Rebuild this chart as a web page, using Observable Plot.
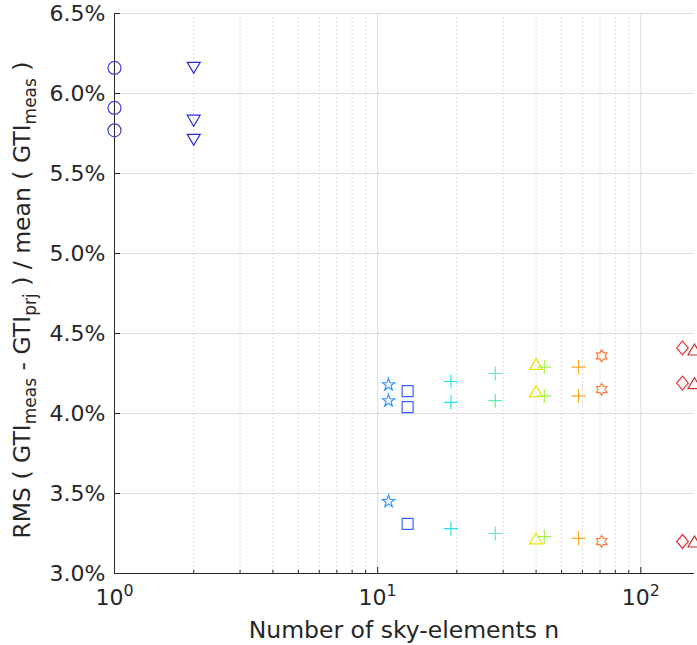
<!DOCTYPE html>
<html>
<head>
<meta charset="utf-8">
<script src="https://cdn.jsdelivr.net/npm/d3@7"></script>
<script src="https://cdn.jsdelivr.net/npm/@observablehq/plot@0.6"></script>
<style>
  html, body { margin: 0; padding: 0; background: white; overflow: hidden; }
</style>
</head>
<body>
<div id="chart"></div>
<script>
// ---- data ----
const seriesN = [1, 2, 11, 13, 19, 28, 40, 43, 58, 71, 144, 160];
const rmsHigh = [6.16, 6.16, 4.18, 4.14, 4.20, 4.25, 4.31, 4.29, 4.29, 4.36, 4.41, 4.40];
const rmsMid  = [5.91, 5.83, 4.08, 4.04, 4.07, 4.08, 4.14, 4.11, 4.11, 4.15, 4.19, 4.19];
const rmsLow  = [5.77, 5.71, 3.45, 3.31, 3.28, 3.25, 3.22, 3.23, 3.22, 3.20, 3.20, 3.20];
const seriesMarker = ["circle", "triangleDown", "pentagram", "square", "plus", "plus",
                      "triangleUp", "plus", "plus", "hexagram", "diamond", "triangleUp"];
const seriesColor = ["#4040cc", "#2a2ae8", "#3399ff", "#3366ff", "#20e4ee", "#60f0a8",
                     "#e6e600", "#a6f04a", "#ffaa22", "#ff7a3a", "#ee3333", "#bb3333"];
const yTicks = [3.0, 3.5, 4.0, 4.5, 5.0, 5.5, 6.0, 6.5];
const xTicks = [1, 10, 100];
const xMinor = [2, 3, 4, 5, 6, 7, 8, 9, 20, 30, 40, 50, 60, 70, 80, 90];

// ---- custom marker shapes (MATLAB-like) ----
function starPath(ctx, n, R, r) {
  for (let k = 0; k < 2 * n; k++) {
    const a = -Math.PI / 2 + k * Math.PI / n;
    const rad = k % 2 === 0 ? R : r;
    const px = rad * Math.cos(a), py = rad * Math.sin(a);
    if (k === 0) ctx.moveTo(px, py); else ctx.lineTo(px, py);
  }
  ctx.closePath();
}
const symbols = {
  circle: { draw(ctx) { ctx.moveTo(6.5, 0); ctx.arc(0, 0, 6.5, 0, 2 * Math.PI); } },
  triangleDown: { draw(ctx) { ctx.moveTo(-6.5, -5.5); ctx.lineTo(6.5, -5.5); ctx.lineTo(0, 5.5); ctx.closePath(); } },
  triangleUp: { draw(ctx) { ctx.moveTo(-6.5, 5.5); ctx.lineTo(6.5, 5.5); ctx.lineTo(0, -5.5); ctx.closePath(); } },
  square: { draw(ctx) { ctx.rect(-5.5, -5.5, 11, 11); } },
  plus: { draw(ctx) { ctx.moveTo(-7, 0); ctx.lineTo(7, 0); ctx.moveTo(0, -7); ctx.lineTo(0, 7); } },
  pentagram: { draw(ctx) { starPath(ctx, 5, 6.5, 2.6); } },
  hexagram: { draw(ctx) { starPath(ctx, 6, 6, 3.5); } },
  diamond: { draw(ctx) { ctx.moveTo(0, -7); ctx.lineTo(5.8, 0); ctx.lineTo(0, 7); ctx.lineTo(-5.8, 0); ctx.closePath(); } }
};

const rows = [];
seriesN.forEach((n, i) => {
  [rmsHigh[i], rmsMid[i], rmsLow[i]].forEach(v => rows.push({ i, n, v }));
});

const axisColor = "#262626";
const yMin = yTicks[0];

const dotMarks = seriesN.map((n, i) =>
  Plot.dot(rows.filter(d => d.i === i), {
    x: "n", y: "v",
    symbol: symbols[seriesMarker[i]],
    r: 6,
    fill: "none",
    stroke: seriesColor[i],
    strokeWidth: 1.2
  })
);

const chart = Plot.plot({
  width: 697,
  height: 645,
  marginLeft: 114,
  marginRight: 3,
  marginTop: 13,
  marginBottom: 72,
  style: { fontFamily: "DejaVu Sans", fontSize: "22px", color: axisColor, background: "white" },
  x: { type: "log", domain: [1, 160] },
  y: { domain: [3.0, 6.5] },
  marks: [
    // grid
    Plot.ruleX(xMinor, { stroke: "#cfcfcf", strokeDasharray: "1.5,2.5", strokeWidth: 1 }),
    Plot.ruleX(xTicks.slice(1), { stroke: "#dcdcdc", strokeWidth: 1 }),
    Plot.ruleY(yTicks.slice(1), { stroke: "#dcdcdc", strokeWidth: 1 }),
    // axes lines
    Plot.ruleX([1], { stroke: axisColor, strokeWidth: 1 }),
    Plot.ruleY([yMin], { stroke: axisColor, strokeWidth: 1 }),
    // inward ticks
    Plot.ruleX(xTicks, { y1: yMin, y2: yMin + 6 / 160, stroke: axisColor }),
    Plot.ruleX(xMinor, { y1: yMin, y2: yMin + 3 / 160, stroke: axisColor }),
    Plot.ruleY(yTicks, { x1: 1, x2: Math.pow(10, 6 / 263), stroke: axisColor }),
    // tick labels
    Plot.axisY({ ticks: yTicks, tickSize: 0, tickPadding: 9, tickFormat: d => d.toFixed(1) + "%", label: null, fontSize: 22 }),
    Plot.axisX({ ticks: xTicks, tickSize: 0, tickPadding: 16, tickFormat: d => "10^" + Math.round(Math.log10(d)), label: null, fontSize: 22 }),
    ...dotMarks
  ]
});

document.getElementById("chart").appendChild(chart);

const svg = d3.select(chart);
// superscript exponents on x tick labels
svg.selectAll('g[aria-label="x-axis tick label"] text').each(function () {
  const t = d3.select(this);
  const parts = t.text().split("^");
  if (parts.length === 2) {
    t.text(parts[0]);
    t.append("tspan").attr("dy", "-0.55em").attr("font-size", "0.72em").text(parts[1]);
  }
});

// x axis label
svg.append("text")
  .attr("x", 404).attr("y", 638)
  .attr("text-anchor", "middle")
  .attr("fill", axisColor)
  .attr("font-size", 23.5)
  .attr("font-family", "DejaVu Sans")
  .text("Number of sky-elements n");

// y axis label with subscripts
const yl = svg.append("text")
  .attr("transform", "translate(30,300) rotate(-90)")
  .attr("text-anchor", "middle")
  .attr("fill", axisColor)
  .attr("font-size", 23.5)
  .attr("font-family", "DejaVu Sans");
const pieces = [["RMS ( GTI", false], ["meas", true], [" - GTI", false], ["prj", true],
                [" ) / mean ( GTI", false], ["meas", true], [" )", false]];
let sub = false;
pieces.forEach(([txt, isSub]) => {
  const ts = yl.append("tspan").text(txt);
  if (isSub && !sub) { ts.attr("dy", "0.35em").attr("font-size", "17px"); sub = true; }
  else if (!isSub && sub) { ts.attr("dy", "-0.26em"); sub = false; }
});
</script>
</body>
</html>
